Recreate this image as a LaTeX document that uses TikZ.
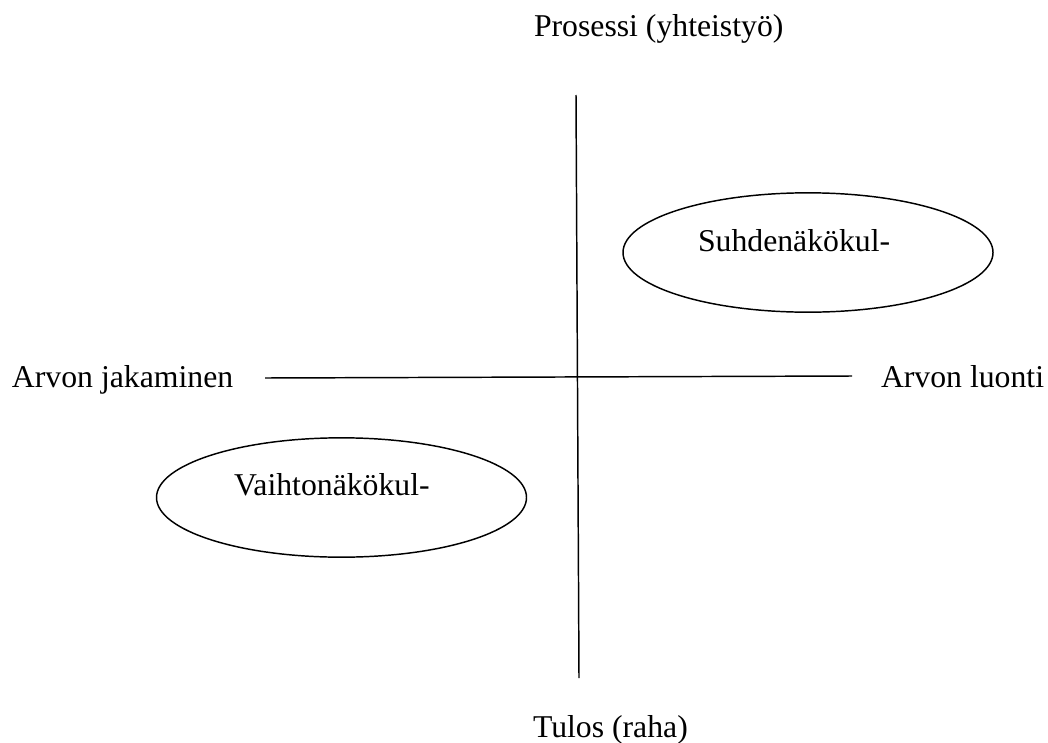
\documentclass[tikz,border=0pt]{standalone}
\usepackage{fontspec}
\setmainfont{Liberation Serif}
\usetikzlibrary{shapes.geometric}
\begin{document}
\begin{tikzpicture}[x=0.75pt,y=-0.75pt,
  lbl/.style={inner sep=0pt,outer sep=0pt,anchor=base west,font=\fontsize{23.8pt}{28pt}\selectfont},
  oval/.style={draw,ellipse,line width=1.1pt,inner sep=0pt,minimum width=277.5pt,minimum height=89.5pt},
  axis/.style={line width=1.1pt}]
\useasboundingbox (0,0) rectangle (1048,742);
\coordinate (vtop) at (576,95);
\coordinate (vbot) at (579,678);
\coordinate (hleft) at (265,378);
\coordinate (hright) at (852,376);
\draw[axis] (vtop) -- (vbot);
\draw[axis] (hleft) -- (hright);
\node[oval] (e1) at (808,252.5) {};
\node[oval] (e2) at (341.5,497.5) {};
\node[lbl] (top) at (534,37) {Prosessi (yhteistyö)};
\node[lbl] (left) at (12,387) {Arvon jakaminen};
\node[lbl] (right) at (881,387) {Arvon luonti};
\node[lbl] (bottom) at (533,737) {Tulos (raha)};
\node[lbl] (t1) at (698,251) {Suhdenäkökul-};
\node[lbl] (t2) at (234,495) {Vaihtonäkökul-};
\end{tikzpicture}
\end{document}
